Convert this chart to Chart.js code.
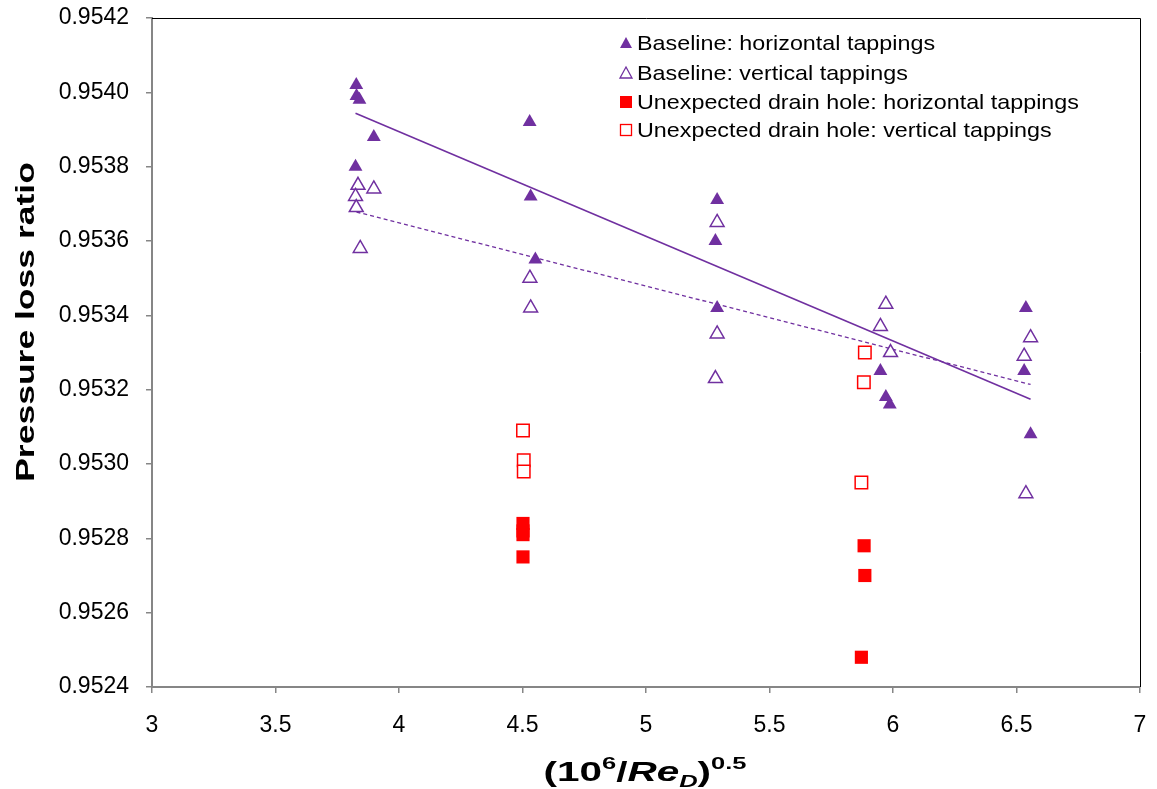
<!DOCTYPE html>
<html>
<head>
<meta charset="utf-8">
<script src="https://cdn.jsdelivr.net/npm/chart.js@4.4.0/dist/chart.umd.min.js"></script>
<style>
    html, body { margin: 0; padding: 0; background: #fff; }
    canvas { display: block; }
</style>
</head>
<body>
<canvas id="chart" width="1157" height="789"></canvas>
<script>
// Baseline: horizontal tappings (filled triangles)
const baseHorizX = [3.827, 3.828, 3.840, 3.898, 3.824, 4.529, 4.533, 4.552, 5.288, 5.281, 5.288, 5.949, 5.971, 5.987, 6.538, 6.531, 6.557];
const baseHorizY = [0.95402, 0.95399, 0.95398, 0.95388, 0.95380, 0.95392, 0.95372, 0.95355, 0.95371, 0.95360, 0.95342, 0.95325, 0.95318, 0.95316, 0.95342, 0.95325, 0.95308];

// Baseline: vertical tappings (open triangles)
const baseVertX = [3.834, 3.898, 3.824, 3.827, 3.843, 4.530, 4.533, 5.288, 5.288, 5.281, 5.971, 5.949, 5.990, 6.557, 6.531, 6.538];
const baseVertY = [0.95375, 0.95374, 0.95372, 0.95369, 0.95358, 0.95350, 0.95342, 0.95365, 0.95335, 0.95323, 0.95343, 0.95337, 0.95330, 0.95334, 0.95329, 0.95292];

// Unexpected drain hole: horizontal tappings (filled squares)
const drainHorizX = [4.502, 4.502, 4.502, 4.502, 5.883, 5.886, 5.872];
const drainHorizY = [0.95284, 0.95282, 0.95281, 0.95275, 0.95278, 0.95270, 0.95248];

// Unexpected drain hole: vertical tappings (open squares)
const drainVertX = [4.502, 4.505, 4.505, 5.886, 5.882, 5.872];
const drainVertY = [0.95309, 0.95301, 0.95298, 0.95330, 0.95322, 0.95295];

// trend lines (end points)
const trendHorizX = [3.824, 6.557];
const trendHorizY = [0.953944, 0.953174];
const trendVertX = [3.828, 6.557];
const trendVertY = [0.953678, 0.953214];

// ticks
const xTicks = [3, 3.5, 4, 4.5, 5, 5.5, 6, 6.5, 7];
const yTicks = [0.9524, 0.9526, 0.9528, 0.9530, 0.9532, 0.9534, 0.9536, 0.9538, 0.9540, 0.9542];

const legendLabels = [
    "Baseline: horizontal tappings",
    "Baseline: vertical tappings",
    "Unexpected drain hole: horizontal tappings",
    "Unexpected drain hole: vertical tappings"
];

const PURPLE = "#7030A0";
const RED = "#FF0000";
const FONT = '"Liberation Sans", Arial, sans-serif';

const toPts = (xs, ys) => xs.map((x, i) => ({ x: x, y: ys[i] }));

// 🖌️ frame, axis titles and legend
const extras = {
    id: "extras",
    beforeDatasetsDraw(chart) {
        const { ctx, chartArea: a } = chart;
        ctx.save();
        ctx.strokeStyle = "#000";
        ctx.lineWidth = 1;
        ctx.beginPath();
        ctx.moveTo(a.left, a.top + 0.5);
        ctx.lineTo(a.right + 0.5, a.top + 0.5);
        ctx.lineTo(a.right + 0.5, a.bottom);
        ctx.stroke();
        ctx.restore();
    },
    afterDraw(chart) {
        const ctx = chart.ctx;
        ctx.save();
        ctx.fillStyle = "#000";

        // y title (text in the reference is drawn wide)
        ctx.save();
        ctx.translate(27, 322);
        ctx.rotate(-Math.PI / 2);
        ctx.scale(1.42, 1);
        ctx.font = "bold 25px " + FONT;
        ctx.textAlign = "center";
        ctx.textBaseline = "middle";
        ctx.fillText("Pressure loss ratio", 0, 0);
        ctx.restore();

        // x title: (10^6/Re_D)^0.5
        const parts = [
            { t: "(10", f: "bold 27px " + FONT, dy: 0 },
            { t: "6", f: "bold 17px " + FONT, dy: -12 },
            { t: "/", f: "bold 27px " + FONT, dy: 0 },
            { t: "Re", f: "italic bold 27px " + FONT, dy: 0 },
            { t: "D", f: "italic bold 17px " + FONT, dy: 6 },
            { t: ")", f: "bold 27px " + FONT, dy: 0 },
            { t: "0.5", f: "bold 17px " + FONT, dy: -12 }
        ];
        const sx = 1.5;
        let total = 0;
        parts.forEach(p => { ctx.font = p.f; p.w = ctx.measureText(p.t).width; total += p.w; });
        ctx.save();
        ctx.translate(645 - total * sx / 2, 781);
        ctx.scale(sx, 1);
        ctx.textBaseline = "alphabetic";
        ctx.textAlign = "left";
        let x = 0;
        parts.forEach(p => { ctx.font = p.f; ctx.fillText(p.t, x, p.dy); x += p.w; });
        ctx.restore();

        // legend
        const rows = [43, 73, 102, 130];
        const mx = 626;
        rows.forEach((ry, i) => {
            ctx.save();
            if (i < 2) {
                ctx.beginPath();
                ctx.moveTo(mx, ry - 6);
                ctx.lineTo(mx + 6, ry + 5);
                ctx.lineTo(mx - 6, ry + 5);
                ctx.closePath();
                if (i === 0) { ctx.fillStyle = PURPLE; ctx.fill(); }
                else { ctx.strokeStyle = PURPLE; ctx.lineWidth = 1.3; ctx.stroke(); }
            } else {
                if (i === 2) { ctx.fillStyle = RED; ctx.fillRect(mx - 6, ry - 6, 12, 12); }
                else { ctx.strokeStyle = RED; ctx.lineWidth = 1.3; ctx.strokeRect(mx - 5.5, ry - 5.5, 11, 11); }
            }
            ctx.restore();
            ctx.save();
            ctx.translate(637, ry + 1);
            ctx.scale(1.11, 1);
            ctx.font = "21px " + FONT;
            ctx.textBaseline = "middle";
            ctx.fillStyle = "#000";
            ctx.fillText(legendLabels[i], 0, 0);
            ctx.restore();
        });
        ctx.restore();
    }
};

const markerSet = (label, xs, ys, style, color, filled) => ({
    label: label,
    data: toPts(xs, ys),
    showLine: false,
    pointStyle: style,
    pointRadius: style === "triangle" ? 8 : (filled ? 9.3 : 8.8),
    pointBorderWidth: filled ? 0 : 1.5,
    pointBackgroundColor: filled ? color : "#fff",
    pointBorderColor: color,
    order: 1
});

// keep tick labels from pushing the plot area around
const noPad = s => { s.paddingTop = 0; s.paddingBottom = 0; s.paddingLeft = 0; s.paddingRight = 0; };

new Chart(document.getElementById("chart"), {
    type: "scatter",
    data: {
        datasets: [
            markerSet(legendLabels[0], baseHorizX, baseHorizY, "triangle", PURPLE, true),
            markerSet(legendLabels[1], baseVertX, baseVertY, "triangle", PURPLE, false),
            markerSet(legendLabels[2], drainHorizX, drainHorizY, "rect", RED, true),
            markerSet(legendLabels[3], drainVertX, drainVertY, "rect", RED, false),
            {
                label: "trend horizontal",
                data: toPts(trendHorizX, trendHorizY),
                showLine: true,
                borderColor: PURPLE,
                borderWidth: 1.6,
                pointRadius: 0,
                order: 5
            },
            {
                label: "trend vertical",
                data: toPts(trendVertX, trendVertY),
                showLine: true,
                borderColor: PURPLE,
                borderWidth: 1.3,
                borderDash: [4, 3],
                pointRadius: 0,
                order: 5
            }
        ]
    },
    options: {
        responsive: false,
        animation: false,
        devicePixelRatio: 1,
        layout: { padding: { top: 18, right: 17, left: 0, bottom: 0 } },
        plugins: {
            legend: { display: false },
            tooltip: { enabled: false }
        },
        scales: {
            x: {
                type: "linear",
                min: 3,
                max: 7,
                afterBuildTicks: s => { s.ticks = xTicks.map(v => ({ value: v })); },
                afterFit: s => { s.height = 102; noPad(s); },
                ticks: {
                    color: "#000",
                    font: { family: FONT, size: 23 },
                    padding: 19,
                    maxRotation: 0,
                    callback: v => String(v)
                },
                grid: { drawOnChartArea: false, drawTicks: true, tickLength: 6, color: "#868686", lineWidth: 1.5 },
                border: { color: "#868686", width: 2 }
            },
            y: {
                type: "linear",
                min: 0.9524,
                max: 0.9542,
                afterBuildTicks: s => { s.ticks = yTicks.map(v => ({ value: v })); },
                afterFit: s => { s.width = 152; noPad(s); },
                ticks: {
                    color: "#000",
                    font: { family: FONT, size: 23 },
                    padding: 17,
                    callback: v => Number(v).toFixed(4)
                },
                grid: { drawOnChartArea: false, drawTicks: true, tickLength: 6, color: "#868686", lineWidth: 1.5 },
                border: { color: "#868686", width: 2 }
            }
        }
    },
    plugins: [extras]
});
</script>
</body>
</html>
